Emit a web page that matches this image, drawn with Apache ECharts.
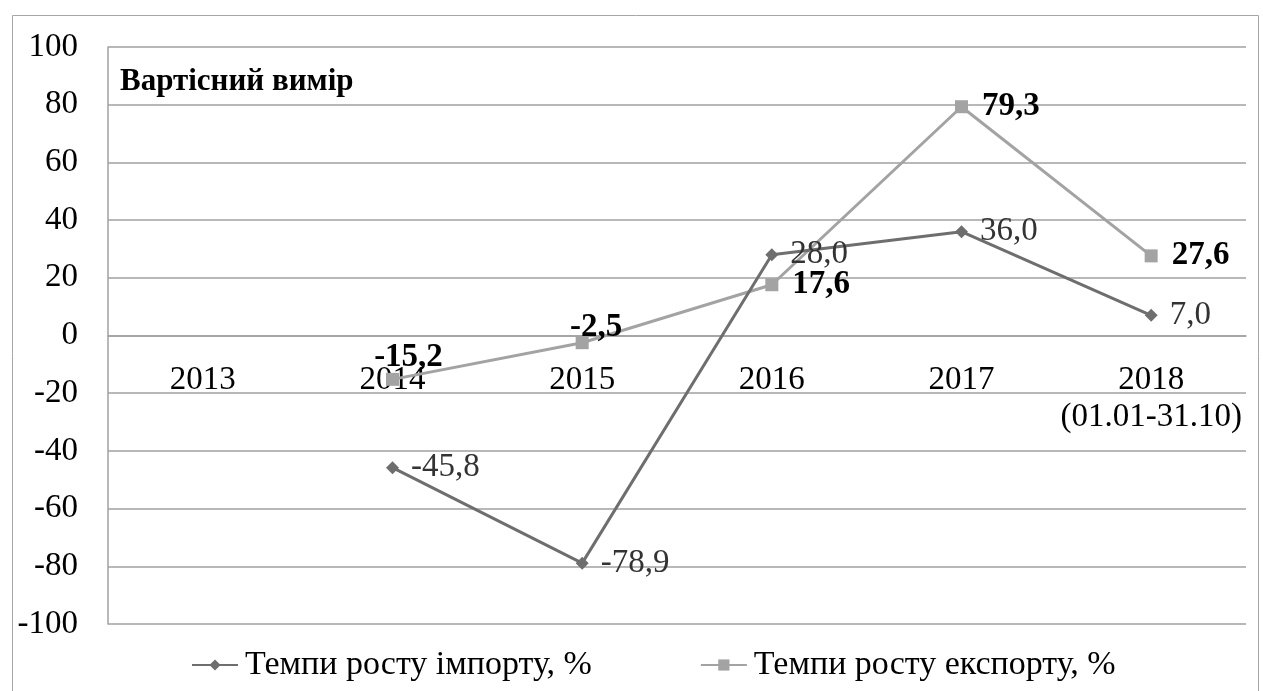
<!DOCTYPE html>
<html>
<head>
<meta charset="utf-8">
<title>Вартісний вимір</title>
<script src="https://cdn.jsdelivr.net/npm/echarts@6/dist/echarts.min.js"></script>
<style>
  html, body { margin: 0; padding: 0; background: #fff; }
  #chart { width: 1263px; height: 691px; }
</style>
</head>
<body>
<div id="chart"></div>
<script>
// Years on the category axis (the last one is a partial year)
const categories = ['2013', '2014', '2015', '2016', '2017', '2018\n(01.01-31.10)'];
// Growth rates, %
const importRates = [null, -45.8, -78.9, 28.0, 36.0, 7.0];
const exportRates = [null, -15.2, -2.5, 17.6, 79.3, 27.6];
const seriesNames = ['Темпи росту імпорту, %', 'Темпи росту експорту, %'];
const titleText = 'Вартісний вимір';

const FONT = '"Liberation Serif", "DejaVu Serif", serif';
const fmt = v => v.value.toFixed(1).replace('.', ',');

// plot rectangle
const GRID = { left: 108, right: 17, top: 47, bottom: 67 };
const Y_MIN = -100, Y_MAX = 100;
const plotHeight = 691 - GRID.top - GRID.bottom;
// lift the category axis from the bottom edge up to the zero line
const zeroLift = plotHeight * (0 - Y_MIN) / (Y_MAX - Y_MIN);

const chart = echarts.init(document.getElementById('chart'), null, { renderer: 'canvas' });

chart.setOption({
  animation: false,
  backgroundColor: '#fff',
  textStyle: { fontFamily: FONT },
  graphic: [
    {
      type: 'rect',
      shape: { x: 12.5, y: 15.5, width: 1246, height: 690 },
      style: { fill: 'none', stroke: '#a6a6a6', lineWidth: 1 },
      silent: true
    },
    {
      type: 'text',
      left: 120,
      top: 66,
      style: {
        text: titleText,
        font: 'bold 31px ' + FONT,
        fill: '#000'
      }
    }
  ],
  grid: Object.assign({ containLabel: false, outerBoundsMode: 'none' }, GRID),
  legend: {
    bottom: 4,
    left: 186,
    itemWidth: 46,
    itemHeight: 14,
    itemGap: 108,
    textStyle: { fontFamily: FONT, fontSize: 34, color: '#000', padding: [0, 0, 0, 2] },
    data: seriesNames
  },
  xAxis: {
    type: 'category',
    data: categories,
    boundaryGap: true,
    position: 'bottom',
    offset: -zeroLift,
    axisLine: { show: true, onZero: false, lineStyle: { color: '#a0a0a0', width: 1.5 } },
    axisTick: { show: false },
    axisLabel: {
      margin: 26,
      fontFamily: FONT,
      fontSize: 33,
      color: '#000',
      lineHeight: 37,
      interval: 0
    },
    splitLine: { show: false }
  },
  yAxis: {
    type: 'value',
    min: Y_MIN,
    max: Y_MAX,
    interval: 20,
    axisLine: { show: true, onZero: false, lineStyle: { color: '#a0a0a0', width: 1.5 } },
    axisTick: { show: false },
    axisLabel: { margin: 30, fontFamily: FONT, fontSize: 33, color: '#000' },
    splitLine: { show: true, lineStyle: { color: '#a0a0a0', width: 1.5 } }
  },
  series: [
    {
      name: seriesNames[0],
      type: 'line',
      data: importRates,
      connectNulls: false,
      symbol: 'diamond',
      symbolSize: 13,
      lineStyle: { color: '#6e6e6e', width: 3 },
      itemStyle: { color: '#6e6e6e' },
      label: {
        show: true,
        position: 'right',
        distance: 12,
        formatter: fmt,
        fontFamily: FONT,
        fontSize: 33,
        color: '#333'
      },
      z: 3
    },
    {
      name: seriesNames[1],
      type: 'line',
      data: exportRates,
      symbol: 'rect',
      symbolSize: 13,
      lineStyle: { color: '#a3a3a3', width: 3 },
      itemStyle: { color: '#a3a3a3' },
      label: {
        show: true,
        position: 'right',
        distance: 14,
        formatter: fmt,
        fontFamily: FONT,
        fontSize: 33,
        fontWeight: 'bold',
        color: '#000'
      },
      labelLayout: function (params) {
        // the first two labels sit above their points
        if (params.dataIndex === 1) {
          return { x: params.rect.x + params.rect.width / 2 + 16, y: params.rect.y - 32, align: 'center' };
        }
        if (params.dataIndex === 2) {
          return { x: params.rect.x + params.rect.width / 2 + 14, y: params.rect.y - 25, align: 'center' };
        }
        return {};
      },
      z: 2
    }
  ]
});
</script>
</body>
</html>
